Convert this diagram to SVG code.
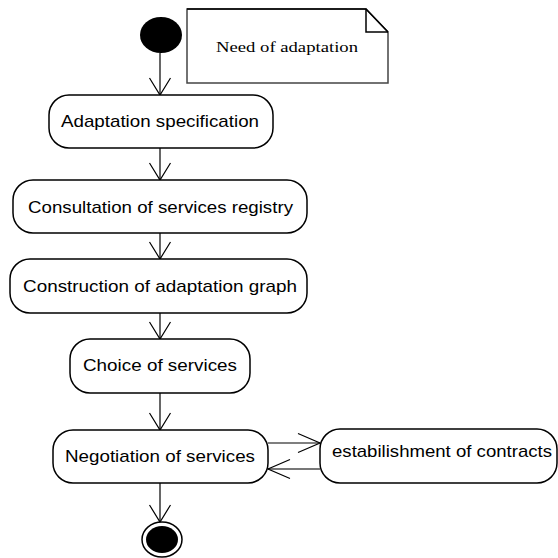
<svg xmlns="http://www.w3.org/2000/svg" width="558" height="558" viewBox="0 0 558 558">
<defs>
<style>
.node{fill:#fff;stroke:#000;stroke-width:1.5}
.lbl{font-family:"Liberation Sans",Arial,sans-serif;font-size:17px;fill:#000;text-anchor:middle}
.note{font-family:"Liberation Serif","Times New Roman",serif;font-size:15px;fill:#000;text-anchor:middle}
.edge{stroke:#000;stroke-width:1.2;fill:none}
.edge2{stroke:#777;stroke-width:2;fill:none}
</style>
<marker id="av" markerUnits="userSpaceOnUse" markerWidth="30" markerHeight="30" refX="0" refY="0" viewBox="-20 -15 22 30" orient="auto" overflow="visible">
<path d="M-17,-10.5 L0,0 L-17,10.5" fill="none" stroke="#000" stroke-width="1.2"/>
</marker>
<marker id="ah" markerUnits="userSpaceOnUse" markerWidth="30" markerHeight="30" refX="0" refY="0" viewBox="-24 -15 26 30" orient="auto" overflow="visible">
<path d="M-22,-9.5 L0,0 L-22,9.5" fill="none" stroke="#000" stroke-width="1.2"/>
</marker>
</defs>
<rect width="558" height="558" fill="#fff"/>
<g id="connectors">
<line class="edge" x1="160" y1="53" x2="160" y2="95" marker-end="url(#av)"/>
<line class="edge" x1="160" y1="148" x2="160" y2="180" marker-end="url(#av)"/>
<line class="edge" x1="160" y1="233" x2="160" y2="259" marker-end="url(#av)"/>
<line class="edge" x1="160" y1="313" x2="160" y2="339" marker-end="url(#av)"/>
<line class="edge" x1="160" y1="393" x2="160" y2="430" marker-end="url(#av)"/>
<line class="edge" x1="160" y1="483" x2="160" y2="522" marker-end="url(#av)"/>
<line class="edge" x1="268" y1="443" x2="320" y2="443" marker-end="url(#ah)"/>
<line class="edge2" x1="320" y1="469" x2="268" y2="469" marker-end="url(#ah)"/>
</g>
<g id="start">
<ellipse cx="161" cy="35" rx="21" ry="18" fill="#000"/>
</g>
<g id="note">
<path d="M187,9 L366,9 L388,32 L388,83 L187,83 Z" fill="#fff" stroke="#444" stroke-width="1.5"/>
<path d="M366,9 L366,32 L388,32" fill="none" stroke="#000" stroke-width="1.5"/>
<path d="M187,9 L366,9 L388,32" fill="none" stroke="#000" stroke-width="1.5"/>
<text class="note" x="287" y="52" textLength="142" lengthAdjust="spacingAndGlyphs">Need of adaptation</text>
</g>
<g id="n1">
<rect class="node" x="49" y="95" width="224" height="53" rx="20" ry="20"/>
<text class="lbl" x="160" y="127" textLength="198" lengthAdjust="spacingAndGlyphs">Adaptation specification</text>
</g>
<g id="n2">
<rect class="node" x="13" y="180" width="294" height="53" rx="20" ry="20"/>
<text class="lbl" x="160.5" y="213" textLength="265" lengthAdjust="spacingAndGlyphs">Consultation of services registry</text>
</g>
<g id="n3">
<rect class="node" x="10" y="259" width="297" height="54" rx="20" ry="20"/>
<text class="lbl" x="160" y="292" textLength="274" lengthAdjust="spacingAndGlyphs">Construction of adaptation graph</text>
</g>
<g id="n4">
<rect class="node" x="70" y="339" width="180" height="54" rx="20" ry="20"/>
<text class="lbl" x="160" y="371" textLength="154" lengthAdjust="spacingAndGlyphs">Choice of services</text>
</g>
<g id="n5">
<rect class="node" x="53" y="430" width="215" height="53" rx="20" ry="20"/>
<text class="lbl" x="160" y="462" textLength="190" lengthAdjust="spacingAndGlyphs">Negotiation of services</text>
</g>
<g id="n6">
<rect class="node" x="320" y="429" width="237" height="54" rx="20" ry="20"/>
<text class="lbl" x="442" y="457" textLength="220" lengthAdjust="spacingAndGlyphs">estabilishment of contracts</text>
</g>
<g id="end">
<ellipse cx="162" cy="539.5" rx="20" ry="17.5" fill="#fff" stroke="#000" stroke-width="1.5"/>
<ellipse cx="162" cy="539.5" rx="16" ry="13.5" fill="#000"/>
</g>
</svg>
